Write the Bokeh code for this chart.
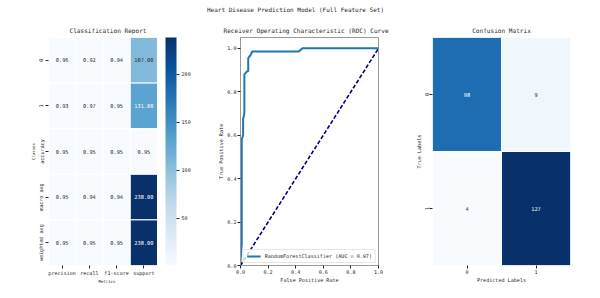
import math
from bokeh.plotting import figure
from bokeh.models import (ColumnDataSource, LinearColorMapper, ColorBar, FixedTicker,
                          Range1d, Legend, LegendItem, PrintfTickFormatter)
from bokeh.layouts import column, row
from bokeh.palettes import Blues256
from bokeh.embed import file_html
from bokeh.resources import INLINE
from bokeh.core.properties import value

# ---------------- data ----------------
suptitle = "Heart Disease Prediction Model (Full Feature Set)"
report_rows = ["0", "1", "accuracy", "macro avg", "weighted avg"]
report_cols = ["precision", "recall", "f1-score", "support"]
precision = [0.96, 0.93, 0.95, 0.95, 0.95]
recall = [0.92, 0.97, 0.95, 0.94, 0.95]
f1_score = [0.94, 0.95, 0.95, 0.94, 0.95]
support = [107.0, 131.0, 0.95, 238.0, 238.0]
cbar_ticks = [50, 100, 150, 200]

fpr = [0.0, 0.0, 0.009, 0.009, 0.019, 0.019, 0.028, 0.028, 0.047, 0.056, 0.056, 0.075, 0.084, 0.421, 0.449, 1.0]
tpr = [0.0, 0.02, 0.10, 0.58, 0.60, 0.675, 0.70, 0.88, 0.894, 0.894, 0.955, 0.971, 0.985, 0.985, 1.0, 1.0]
roc_ticks = [0.0, 0.2, 0.4, 0.6, 0.8, 1.0]
auc_label = "RandomForestClassifier (AUC = 0.97)"

cm_labels = ["0", "1"]
cm_values = [[98, 9], [4, 127]]

FONT = "DejaVu Sans Mono"
TXT = "#262626"
PAL = list(Blues256[::-1])  # light -> dark


def rel_lum(hexc):
    r, g, b = (int(hexc[i:i + 2], 16) / 255 for i in (1, 3, 5))
    def f(c):
        return c / 12.92 if c <= 0.03928 else ((c + 0.055) / 1.055) ** 2.4
    return 0.2126 * f(r) + 0.7152 * f(g) + 0.0722 * f(b)


def map_color(v, lo, hi):
    t = (v - lo) / (hi - lo)
    idx = min(255, max(0, int(t * 255.999)))
    return PAL[idx]


def style_axis(ax, label_size="5.1px"):
    ax.major_label_text_font = FONT
    ax.major_label_text_font_size = label_size
    ax.major_label_text_color = TXT
    ax.axis_label_text_font = FONT
    ax.axis_label_text_font_style = "normal"
    ax.axis_label_text_color = TXT
    ax.major_tick_in = 0
    ax.major_tick_out = 3
    ax.minor_tick_line_color = None
    ax.major_tick_line_color = TXT
    ax.major_label_standoff = 1
    ax.axis_label_standoff = 0


def style_title(p, text, align="center", offset=0):
    p.title.text = text
    p.title.text_font = FONT
    p.title.text_font_size = "6.1px"
    p.title.text_font_style = "normal"
    p.title.text_color = TXT
    p.title.align = align
    p.title.offset = offset
    p.title.standoff = 7


# ---------------- top title ----------------
top = figure(width=600, height=18, toolbar_location=None, output_backend="svg",
             min_border_left=0, min_border_right=10, min_border_top=0, min_border_bottom=0,
             x_range=(0, 1), y_range=(0, 1))
top.title.text = suptitle
top.title.text_font = FONT
top.title.text_font_size = "6.0px"
top.title.text_font_style = "normal"
top.title.text_color = TXT
top.title.align = "center"
top.title.standoff = 7
top.axis.visible = False
top.grid.visible = False
top.outline_line_color = None

# ---------------- classification report ----------------
vals_cols = [precision, recall, f1_score, support]
all_vals = [v for col in vals_cols for v in col]
lo, hi = min(all_vals), max(all_vals)
xs, ys, vs, labels, tcols = [], [], [], [], []
for j, col in enumerate(vals_cols):
    for i, v in enumerate(col):
        xs.append(j + 0.5)
        ys.append(len(report_rows) - i - 0.5)
        vs.append(v)
        labels.append(f"{v:.2f}")
        c = map_color(v, lo, hi)
        tcols.append("white" if rel_lum(c) <= 0.408 else TXT)
src1 = ColumnDataSource(dict(x=xs, y=ys, v=vs, label=labels, tc=tcols))
mapper1 = LinearColorMapper(palette=PAL, low=lo, high=hi)

gap = 8 / 27.25
p1 = figure(width=200, height=280, toolbar_location=None, output_backend="svg",
            x_range=Range1d(0, len(report_cols) + gap), y_range=Range1d(0, len(report_rows)),
            min_border_left=48, min_border_right=35, min_border_top=19, min_border_bottom=33)
p1.rect(x="x", y="y", width=1, height=1, source=src1,
        fill_color={"field": "v", "transform": mapper1}, line_color="white", line_width=1)
p1.text(x="x", y="y", text="label", source=src1, text_align="center", text_baseline="middle",
        text_font=value(FONT), text_font_size="5.3px", text_color="tc")
style_title(p1, "Classification Report", align="left", offset=21)
p1.grid.visible = False
p1.outline_line_color = None
p1.xaxis.ticker = FixedTicker(ticks=[j + 0.5 for j in range(len(report_cols))])
p1.xaxis.major_label_overrides = {j + 0.5: c for j, c in enumerate(report_cols)}
p1.yaxis.ticker = FixedTicker(ticks=[len(report_rows) - i - 0.5 for i in range(len(report_rows))])
p1.yaxis.major_label_overrides = {len(report_rows) - i - 0.5: r for i, r in enumerate(report_rows)}
p1.yaxis.major_label_orientation = "vertical"
p1.xaxis.axis_label = "Metrics"
p1.yaxis.axis_label = "Classes"
for ax in (p1.xaxis[0], p1.yaxis[0]):
    style_axis(ax)
    ax.axis_line_color = None
    ax.axis_label_text_font_size = "4px"
cb = ColorBar(color_mapper=mapper1, width=11, margin=0, padding=0,
              ticker=FixedTicker(ticks=cbar_ticks), major_tick_in=0, major_tick_out=3,
              major_tick_line_color=TXT, major_label_text_font=FONT,
              major_label_text_font_size="5.1px", major_label_text_color=TXT,
              label_standoff=2, bar_line_color=None, border_line_color=None,
              background_fill_color=None)
p1.add_layout(cb, "right")

# ---------------- ROC ----------------
p2 = figure(width=200, height=280, toolbar_location=None, output_backend="svg",
            x_range=Range1d(0, 1.0), y_range=Range1d(0, 1.05),
            min_border_left=40, min_border_right=22, min_border_top=19, min_border_bottom=33)
style_title(p2, "Receiver Operating Characteristic (ROC) Curve", align="left", offset=-17)
r_roc = p2.line(fpr, tpr, line_color="#1f77b4", line_width=2)
p2.line([0, 1], [0, 1], line_color="navy", line_width=1.6, line_dash="4 2")
p2.grid.visible = False
p2.outline_line_color = "#999999"
p2.xaxis.ticker = FixedTicker(ticks=roc_ticks)
p2.yaxis.ticker = FixedTicker(ticks=roc_ticks)
p2.xaxis.formatter = PrintfTickFormatter(format="%.1f")
p2.yaxis.formatter = PrintfTickFormatter(format="%.1f")
p2.xaxis.axis_label = "False Positive Rate"
p2.yaxis.axis_label = "True Positive Rate"
for ax in (p2.xaxis[0], p2.yaxis[0]):
    style_axis(ax)
    ax.axis_line_color = "#999999"
    ax.axis_label_text_font_size = "5.1px"
leg = Legend(items=[LegendItem(label=auc_label, renderers=[r_roc])], location="bottom_right",
             margin=2, padding=3, spacing=0, glyph_width=14, glyph_height=6, label_height=6,
             label_standoff=4, label_text_font=FONT, label_text_font_size="5.1px",
             label_text_color=TXT, border_line_color="#cccccc", background_fill_alpha=0.8)
p2.add_layout(leg)

# ---------------- Confusion matrix ----------------
n = len(cm_labels)
flat = [v for r in cm_values for v in r]
clo, chi = min(flat), max(flat)
cx, cy, cv, cl, ct = [], [], [], [], []
for i in range(n):
    for j in range(n):
        v = cm_values[i][j]
        cx.append(j + 0.5)
        cy.append(n - i - 0.5)
        cv.append(v)
        cl.append(str(v))
        c = map_color(v, clo, chi)
        ct.append("white" if rel_lum(c) <= 0.408 else TXT)
src3 = ColumnDataSource(dict(x=cx, y=cy, v=cv, label=cl, tc=ct))
mapper3 = LinearColorMapper(palette=PAL, low=clo, high=chi)
p3 = figure(width=200, height=280, toolbar_location=None, output_backend="svg",
            x_range=Range1d(0, n), y_range=Range1d(0, n),
            min_border_left=32, min_border_right=30, min_border_top=19, min_border_bottom=33)
p3.rect(x="x", y="y", width=1, height=1, source=src3,
        fill_color={"field": "v", "transform": mapper3}, line_color="white", line_width=1)
p3.text(x="x", y="y", text="label", source=src3, text_align="center", text_baseline="middle",
        text_font=value(FONT), text_font_size="5.3px", text_color="tc")
style_title(p3, "Confusion Matrix")
p3.grid.visible = False
p3.outline_line_color = None
p3.xaxis.ticker = FixedTicker(ticks=[j + 0.5 for j in range(n)])
p3.xaxis.major_label_overrides = {j + 0.5: c for j, c in enumerate(cm_labels)}
p3.yaxis.ticker = FixedTicker(ticks=[n - i - 0.5 for i in range(n)])
p3.yaxis.major_label_overrides = {n - i - 0.5: c for i, c in enumerate(cm_labels)}
p3.yaxis.major_label_orientation = "vertical"
p3.xaxis.axis_label = "Predicted Labels"
p3.yaxis.axis_label = "True Labels"
for ax in (p3.xaxis[0], p3.yaxis[0]):
    style_axis(ax)
    ax.axis_line_color = None
    ax.axis_label_text_font_size = "5.1px"

layout = column(top, row(p1, p2, p3, spacing=0), spacing=0)
open("out.html", "w").write(file_html(layout, INLINE))
